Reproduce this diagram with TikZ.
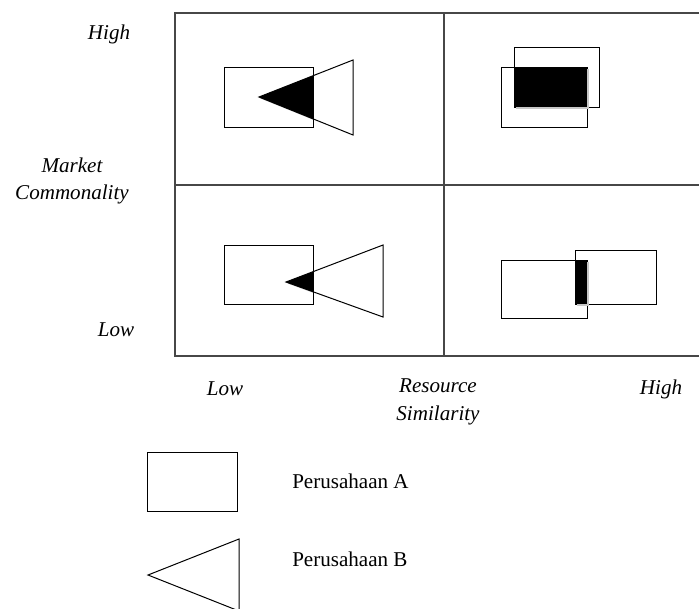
\documentclass[tikz,border=0pt]{standalone}
\usepackage{fontspec}
\setmainfont{Liberation Serif}
\usetikzlibrary{positioning}

\begin{document}
\begin{tikzpicture}[
  x=0.75pt,y=-0.75pt,
  grid/.style={draw=black!72,line width=0.95pt},
  firm/.style={draw=black,line width=0.75pt},
  overlap/.style={fill=black},
  shade/.style={fill=black!22},
  axis/.style={font=\itshape\fontsize{15.8}{20.5}\selectfont,align=center,inner sep=0pt},
  legend/.style={font=\fontsize{15.8}{19}\selectfont,anchor=west,inner sep=0pt}
]
\useasboundingbox (0,0) rectangle (699,608);

% Matrix.
\draw[grid] (699,13) -- (175,13) -- (175,356) -- (699,356);
\draw[grid] (444,13) -- (444,356);
\draw[grid] (175,185) -- (699,185);

% Axis labels.
\node[axis] (mHigh) at (109,34) {High};
\node[axis] (mName) at (72,181) {Market\\Commonality};
\node[axis] (mLow) at (116,330) {Low};
\node[axis] (rLow) at (225,389) {Low};
\node[axis] (rName) at (438,402) {Resource\\Similarity};
\node[axis] (rHigh) at (661,389) {High};

% Low similarity, high commonality.
\begin{scope}
  \clip (224,67) rectangle (313,127);
  \fill[shade,shift={(1.5,1.5)}] (259,97) -- (353,60) -- (353,135) -- cycle;
  \fill[overlap] (259,97) -- (353,60) -- (353,135) -- cycle;
\end{scope}
\draw[firm] (224,67) rectangle (313,127);
\draw[firm] (259,97) -- (353,60) -- (353,135) -- cycle;

% High similarity, high commonality.
\draw[firm] (501,67) rectangle (587,127);
\draw[firm] (514,47) rectangle (599,107);
\fill[shade] (516,69) rectangle (589,109);
\fill[overlap] (514,67) rectangle (587,107);

% Low similarity, low commonality.
\begin{scope}
  \clip (224,245) rectangle (313,304);
  \fill[shade,shift={(1.5,1.5)}] (286,282) -- (383,245) -- (383,317) -- cycle;
  \fill[overlap] (286,282) -- (383,245) -- (383,317) -- cycle;
\end{scope}
\draw[firm] (224,245) rectangle (313,304);
\draw[firm] (286,282) -- (383,245) -- (383,317) -- cycle;

% High similarity, low commonality.
\draw[firm] (501,260) rectangle (587,318);
\draw[firm] (575,250) rectangle (656,304);
\fill[shade] (577,262) rectangle (589,306);
\fill[overlap] (575,260) rectangle (587,304);

% Legend.
\draw[firm] (147,452) rectangle (237,511);
\node[legend] (firmA) at (292,481) {Perusahaan A};
\draw[firm] (148,575) -- (239,539) -- (239,611) -- cycle;
\node[legend] (firmB) at (292,559) {Perusahaan B};
\end{tikzpicture}
\end{document}
